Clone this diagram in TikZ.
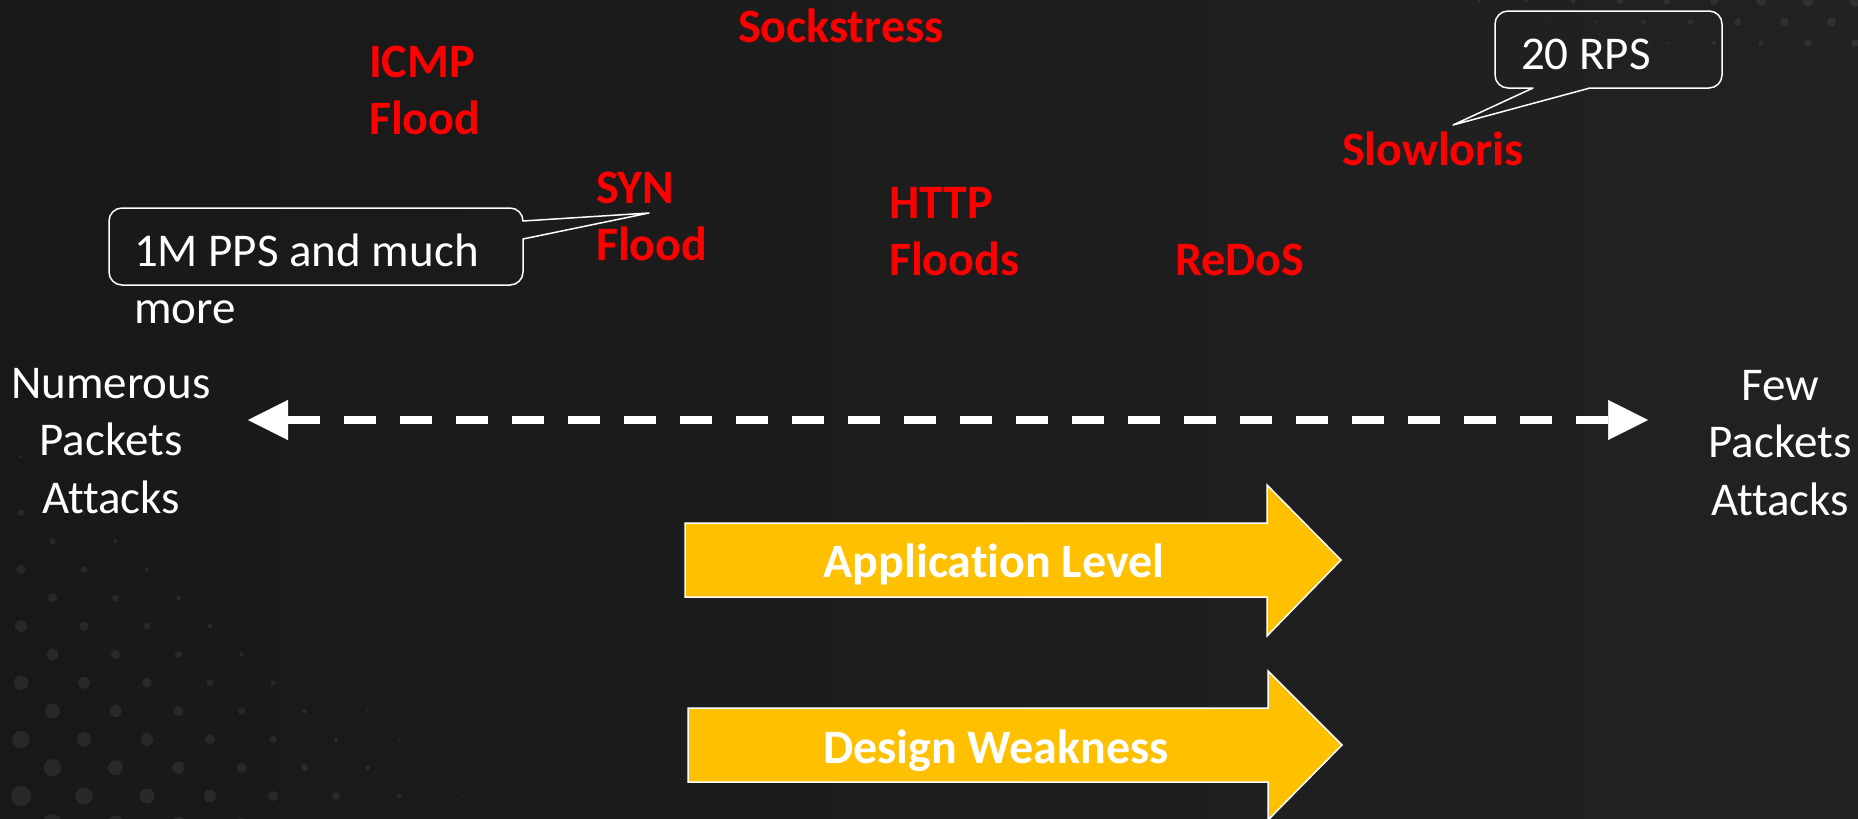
\documentclass[tikz,border=0pt]{standalone}
\usepackage{fontspec}
\setmainfont{Carlito}[Ligatures={NoCommon}]
\usetikzlibrary{arrows.meta}

\definecolor{bgleft}{HTML}{181818}
\definecolor{bgright}{HTML}{222222}
\definecolor{amber}{HTML}{FFC000}
\definecolor{attackred}{HTML}{FF0000}

\tikzset{
  every node/.style={inner sep=0pt, outer sep=0pt},
  lbl/.style={text=white, font=\fontsize{47}{57.5}\selectfont, align=center},
  attack/.style={text=attackred, font=\fontsize{48}{57}\selectfont\bfseries, align=left},
  note/.style={text=white, font=\fontsize{47}{57}\selectfont, align=left},
  band/.style={text=white, font=\fontsize{48}{57}\selectfont\bfseries},
  callout/.style={draw=white, line width=1.5pt, line join=round},
  blockarrow/.style={fill=amber, draw=white, line width=1.5pt, line join=miter},
  scaleline/.style={draw=white, line width=8pt, dash pattern=on 32pt off 24pt,
    {Triangle[length=40pt,width=40pt,line width=0.5pt]}-{Triangle[length=40pt,width=40pt,line width=0.5pt]}},
  bgdot/.style={fill=white, fill opacity=0.07},
}

\begin{document}
\begin{tikzpicture}[x=1pt,y=-1pt]
\useasboundingbox (0,0) rectangle (1858,819);
\shade[left color=bgleft, right color=bgright] (0,0) rectangle (1858,819);

% faint dot grid fading away from the lower left corner
\foreach \j in {-1,...,13} {
  \pgfmathsetmacro\yy{796-28.3*\j}
  \pgfmathsetmacro\xo{ifthenelse(mod(\j+2,2)==0,21,52.5)}
  \foreach \k in {0,...,9} {
    \pgfmathsetmacro\xx{\xo+63*\k}
    \pgfmathsetmacro\rr{11-0.02*\xx-0.024*(819-\yy)}
    \ifdim\rr pt>0.8pt \fill[bgdot] (\xx,\yy) circle[radius=\rr pt]; \fi
  }
}
% faint dot grid near the upper right corner
\foreach \j in {0,...,2} {
  \pgfmathsetmacro\yy{1+21*\j}
  \pgfmathsetmacro\xo{ifthenelse(mod(\j,2)==0,1855,1831.5)}
  \foreach \k in {0,...,11} {
    \pgfmathsetmacro\xx{\xo-47*\k}
    \pgfmathsetmacro\rr{6-0.012*(1858-\xx)-0.05*\yy}
    \ifdim\rr pt>0.8pt \fill[bgdot] (\xx,\yy) circle[radius=\rr pt]; \fi
  }
}

% attack names (multi-line nodes sit on the baseline of their last line)
\node[attack, anchor=base west] (sock)  at (738,42)   {Sockstress};
\node[attack, anchor=base west] (icmp)  at (369,134)  {ICMP\\Flood};
\node[attack, anchor=base west] (syn)   at (596,260)  {SYN\\Flood};
\node[attack, anchor=base west] (http)  at (889,275)  {HTTP\\Floods};
\node[attack, anchor=base west] (redos) at (1175,275) {ReDoS};
\node[attack, anchor=base west] (slow)  at (1342,165) {Slowloris};

% callout: packet rate of the flood attacks
\coordinate (ppstip) at (649,213);
\draw[callout] (523,221) arc[start angle=0, end angle=90, radius=13pt]
  -- (122,208) arc[start angle=90, end angle=180, radius=13pt]
  -- (109,272) arc[start angle=180, end angle=270, radius=13pt]
  -- (510,285) arc[start angle=270, end angle=360, radius=13pt]
  -- (523,239) -- (ppstip) -- cycle;
\node[note, anchor=base west] (pps) at (134,323) {1M PPS and much\\more};

% callout: request rate of Slowloris
\coordinate (rpstip) at (1453,125);
\draw[callout] (1590,88) -- (1709,88) arc[start angle=270, end angle=360, radius=13pt]
  -- (1722,24) arc[start angle=0, end angle=90, radius=13pt]
  -- (1508,11) arc[start angle=90, end angle=180, radius=13pt]
  -- (1495,75) arc[start angle=180, end angle=270, radius=13pt]
  -- (1533,88) -- (rpstip) -- cycle;
\node[note, anchor=base west] (rps) at (1521,69) {20 RPS};

% scale from many packets to few packets
\node[lbl, anchor=base] (numerous) at (111,513) {Numerous\\Packets\\Attacks};
\node[lbl, anchor=base] (few) at (1780,515) {Few\\Packets\\Attacks};
\coordinate (scaleleft) at (248,420);
\coordinate (scaleright) at (1648,420);
\draw[scaleline] (scaleleft) -- (scaleright);

% block arrows
\draw[blockarrow] (685,523) -- (1267,523) -- (1267,485) -- (1341,560)
  -- (1267,636) -- (1267,597) -- (685,597) -- cycle;
\node[band, anchor=base] (applvl) at (994,577) {Application Level};
\draw[blockarrow] (688,708) -- (1268,708) -- (1268,671) -- (1342,745)
  -- (1268,820) -- (1268,782) -- (688,782) -- cycle;
\node[band, anchor=base] (design) at (996,763) {Design Weakness};
\end{tikzpicture}
\end{document}
